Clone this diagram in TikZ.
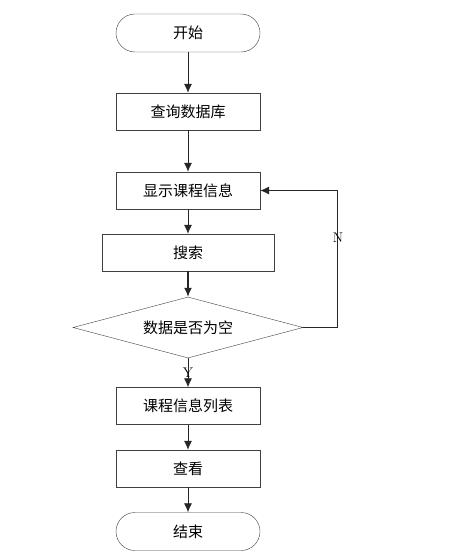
\documentclass[tikz,border=0pt]{standalone}
\usepackage{fontspec}
\newfontfamily\cjk{Noto Sans CJK SC}
\usetikzlibrary{shapes.geometric, arrows.meta}

\tikzset{
    label font/.style={font=\cjk\fontsize{15}{17}\selectfont},
    term/.style={draw=black!75, fill=white, rounded corners=19pt, minimum width=144pt, minimum height=38pt, label font},
    proc/.style={draw=black!75, fill=white, minimum width=144pt, minimum height=37pt, label font},
    decide/.style={diamond, draw=black!75, fill=white, aspect=3.77, inner sep=0pt, minimum width=230pt, minimum height=61pt, label font},
    flow/.style={-{Latex[length=9pt, width=8pt]}, black!85, thick}
}

\begin{document}
\begin{tikzpicture}[x=1pt, y=-1pt]
    \useasboundingbox (0,0) rectangle (456,559);

    % Draw nodes
    \node[term] (begin) at (188,33) {开始};
    \node[proc] (query) at (188,111.5) {查询数据库};
    \node[proc] (show) at (188,190.5) {显示课程信息};
    \node[proc, minimum width=172pt] (search) at (188,252.5) {搜索};
    \node[decide] (empty) at (188,327.5) {数据是否为空};
    \node[proc] (list) at (188,406) {课程信息列表};
    \node[proc] (view) at (188,468.5) {查看};
    \node[term] (finish) at (188,531.5) {结束};
    \coordinate (turn) at (337,327.5);

    % Draw connections
    \draw[flow] (begin) -- (query);
    \draw[flow] (query) -- (show);
    \draw[flow] (show) -- (search);
    \draw[flow, very thick] (search) -- (empty);
    \draw[flow] (empty) -- (list);
    \draw[flow] (list) -- (view);
    \draw[flow] (view) -- (finish);
    \draw[flow] (empty.east) -- (turn) |- (show.east);

    % Labels
    \node[font=\fontsize{14}{16}\selectfont] (yes) at (188,373) {Y};
    \node[font=\fontsize{14}{16}\selectfont] (no) at (338,238) {N};
\end{tikzpicture}
\end{document}
